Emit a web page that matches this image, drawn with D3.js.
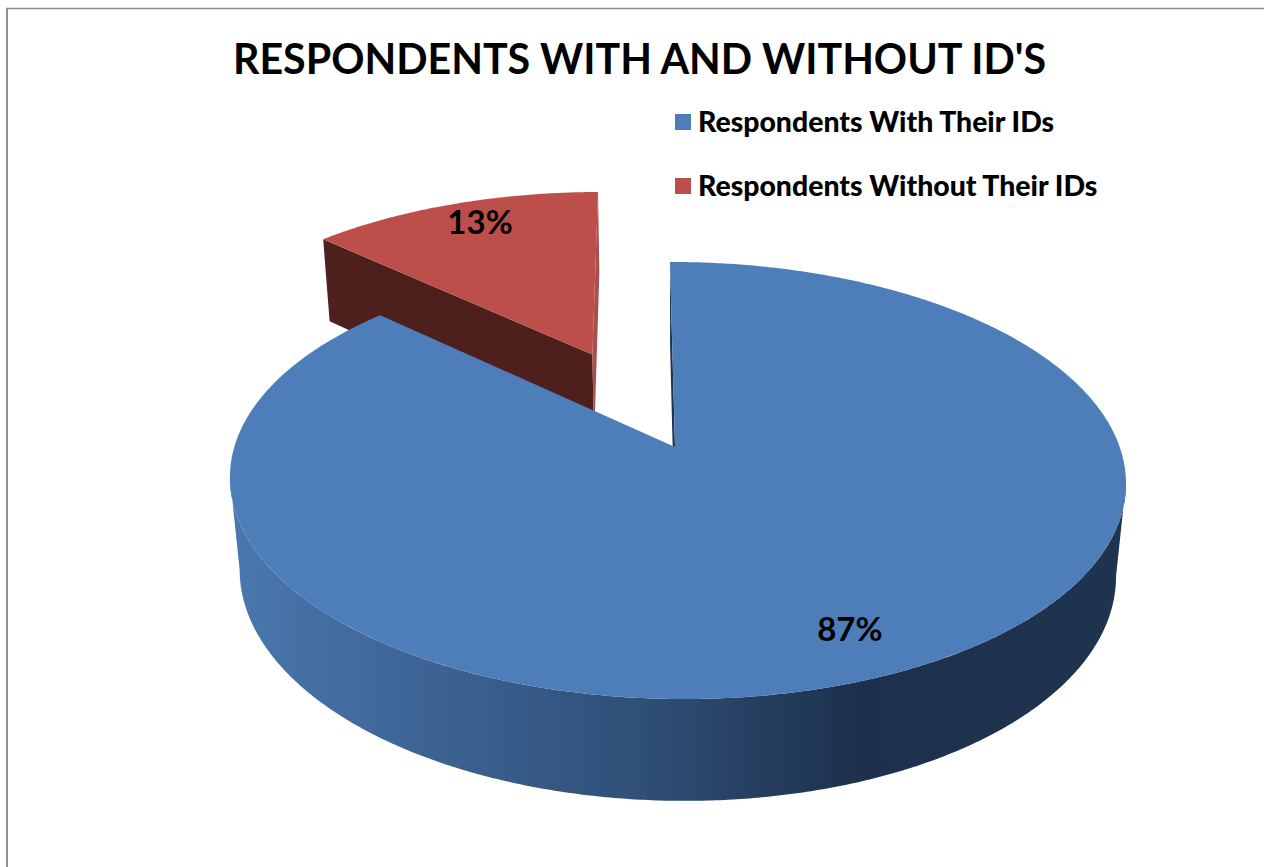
<!DOCTYPE html>
<html>
<head>
<meta charset="utf-8">
<title>Respondents with and without IDs</title>
<script src="https://cdn.jsdelivr.net/npm/d3@7/dist/d3.min.js"></script>
<style>
  html, body { margin: 0; padding: 0; background: #fff; overflow: hidden; }
  svg { display: block; }
  text { font-family: Lato, "Open Sans", sans-serif; fill: #000; }
</style>
</head>
<body>
<svg id="chart" width="1264" height="867"></svg>
<script>
// Chart content
const chartTitle = "RESPONDENTS WITH AND WITHOUT ID'S";
const categories = ["Respondents With Their IDs", "Respondents Without Their IDs"];
const shares = [87, 13];
const sliceColors = ["#4e7eb9", "#bd4f4b"];

// Pie placement: how far each slice is pulled out along its bisector,
// plus a small sideways drift in pie units
const explode = [0, 0.506];
const drift = [0, 0.007];
const labelRadius = 0.84;
const labelNudge = [[2, -5], [7, -4]];

// Perspective camera for the tilted pie. u runs right, v runs away from the
// viewer, h runs from the top face (0) to the bottom face (1).
const cam = { x0: 675, y0: 447, bx: 442.7, by: 213.4, depth: 94, shear: -5.8, p: 0.1533, q: -0.0045, r: 0.022 };
function project(u, v, h) {
  const w = 1 + cam.p * v + cam.q * u + cam.r * h;
  return [
    cam.x0 + (cam.bx * u + cam.shear * v) / w,
    cam.y0 + (-cam.by * v + cam.depth * h) / w
  ];
}

const svg = d3.select("#chart");
const defs = svg.append("defs");

// Side shading of the large slice: lit on the left, dark from the front-right on
const rimStops = [[229, "#4a78ae"], [400, "#3f6698"], [640, "#2f4f77"], [860, "#1d304c"], [1125, "#1f344f"]];
const rimX = d3.scaleLinear().domain([229, 1125]).range([0, 100]);
defs.append("linearGradient")
  .attr("id", "rimShade")
  .attr("gradientUnits", "objectBoundingBox")
  .attr("x1", 0).attr("x2", 1).attr("y1", 0).attr("y2", 0)
  .selectAll("stop").data(rimStops).join("stop")
  .attr("offset", d => rimX(d[0]) + "%")
  .attr("stop-color", d => d[1]);

// Window border along the top and left
svg.append("line").attr("x1", 6).attr("x2", 1264).attr("y1", 8.5).attr("y2", 8.5)
  .attr("stroke", "#8f8f8f").attr("stroke-width", 1.6);
svg.append("line").attr("x1", 7).attr("x2", 7).attr("y1", 8).attr("y2", 867)
  .attr("stroke", "#8f8f8f").attr("stroke-width", 2);

// Title
svg.append("text").attr("x", 639.5).attr("y", 74)
  .attr("text-anchor", "middle")
  .attr("font-size", 41.2).attr("font-weight", 700)
  .text(chartTitle);

// Legend
const legend = svg.append("g").selectAll("g").data(categories).join("g")
  .attr("transform", (d, i) => `translate(675,${114 + i * 64})`);
legend.append("rect").attr("width", 16).attr("height", 16)
  .attr("fill", (d, i) => sliceColors[i]);
legend.append("text").attr("x", 23).attr("y", 18)
  .attr("font-size", 28.4).attr("font-weight", 900)
  .text(d => d);

// Slices from the share values, clockwise from the back of the pie
const arcs = d3.pie().sort(null).startAngle(0).endAngle(2 * Math.PI)(shares);
const line = d3.line();
const polar = a => [Math.sin(a), Math.cos(a)];

function offsetOf(arc, i) {
  const [bu, bv] = polar((arc.startAngle + arc.endAngle) / 2);
  return [bu * explode[i] + drift[i], bv * explode[i]];
}
function arcPoints(arc, i, h, from = arc.startAngle, to = arc.endAngle) {
  const [ou, ov] = offsetOf(arc, i);
  const n = Math.max(2, Math.ceil((to - from) * 120));
  return d3.range(n + 1).map(k => {
    const [u, v] = polar(from + (to - from) * k / n);
    return project(u + ou, v + ov, h);
  });
}
function wedgeTop(arc, i) {
  const [ou, ov] = offsetOf(arc, i);
  return [project(ou, ov, 0), ...arcPoints(arc, i, 0)];
}
function cutWall(arc, i, angle) {
  const [ou, ov] = offsetOf(arc, i);
  const [u, v] = polar(angle);
  return [project(ou + u, ov + v, 0), project(ou, ov, 0), project(ou, ov, 1), project(ou + u, ov + v, 1)];
}

const pie = svg.append("g");
const [big, small] = arcs;

// Pulled-out slice sits behind the large one
pie.append("path").attr("d", line(cutWall(small, 1, small.startAngle)) + "Z").attr("fill", "#4d1f1d");
pie.append("path").attr("d", line(cutWall(small, 1, small.endAngle)) + "Z").attr("fill", "#a8504d");
pie.append("path").attr("d", line(wedgeTop(small, 1)) + "Z").attr("fill", sliceColors[1]);

// Large slice: cut face, curved side, then top face
pie.append("path").attr("d", line(cutWall(big, 0, big.startAngle)) + "Z").attr("fill", "#1f344f");

const topArc = arcPoints(big, 0, 0, Math.PI * 0.3, Math.PI * 1.7);
const botArc = arcPoints(big, 0, 1, Math.PI * 0.3, Math.PI * 1.7);
const sliceToSilhouette = pts => {
  const right = d3.greatestIndex(pts, p => p[0]);
  const left = d3.leastIndex(pts, p => p[0]);
  return pts.slice(right, left + 1);
};
pie.append("path")
  .attr("d", line([...sliceToSilhouette(topArc), ...sliceToSilhouette(botArc).reverse()]) + "Z")
  .attr("fill", "url(#rimShade)");

pie.append("path").attr("d", line(wedgeTop(big, 0)) + "Z").attr("fill", sliceColors[0]);

// Value labels sit on each slice's bisector
svg.append("g").selectAll("text").data(arcs).join("text")
  .attr("transform", (d, i) => {
    const [ou, ov] = offsetOf(d, i);
    const [u, v] = polar((d.startAngle + d.endAngle) / 2);
    const [x, y] = project(ou + u * labelRadius, ov + v * labelRadius, 0);
    return `translate(${x + labelNudge[i][0]},${y + labelNudge[i][1]})`;
  })
  .attr("text-anchor", "middle").attr("dy", "0.36em")
  .attr("font-size", 33).attr("font-weight", 700)
  .text(d => d.data + "%");
</script>
</body>
</html>
